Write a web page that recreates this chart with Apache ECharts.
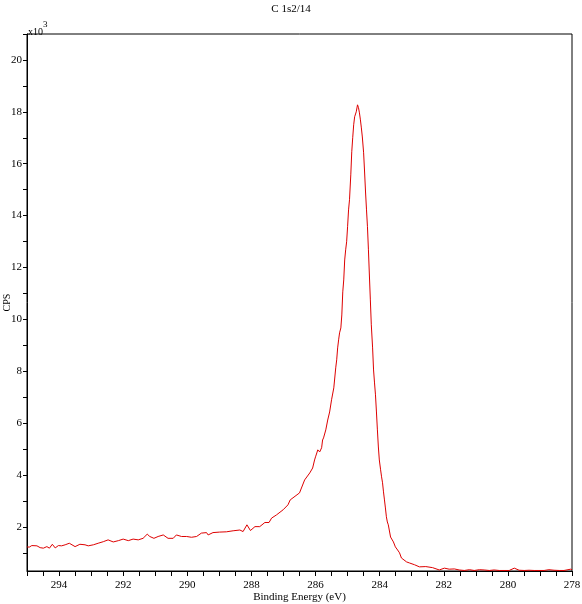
<!DOCTYPE html>
<html>
<head>
<meta charset="utf-8">
<script src="https://cdn.jsdelivr.net/npm/echarts@6/dist/echarts.min.js"></script>
<style>
  html, body { margin: 0; padding: 0; background: #fff; }
  #chart { width: 582px; height: 604px; }
</style>
</head>
<body>
<div id="chart"></div>
<script>
// binding energy (eV)
const energy = [295.00, 294.93, 294.85, 294.69, 294.59, 294.49, 294.38, 294.30, 294.21, 294.12, 294.02,
  293.92, 293.81, 293.68, 293.50, 293.35, 293.19, 293.09, 292.93, 292.78, 292.62, 292.47, 292.31,
  292.15, 292.00, 291.84, 291.69, 291.53, 291.38, 291.25, 291.17, 291.04, 290.91, 290.75, 290.60,
  290.44, 290.34, 290.18, 290.02, 289.87, 289.71, 289.56, 289.40, 289.35, 289.20, 288.99, 288.78,
  288.57, 288.36, 288.26, 288.14, 288.03, 287.89, 287.74, 287.58, 287.45, 287.37, 287.22, 287.01,
  286.86, 286.79, 286.50, 286.34, 286.18, 286.09, 286.03, 286.00, 285.96, 285.93, 285.87, 285.84,
  285.81, 285.78, 285.75, 285.68, 285.62, 285.56, 285.50, 285.43, 285.37, 285.34, 285.31, 285.28,
  285.25, 285.21, 285.18, 285.15, 285.12, 285.09, 285.06, 285.03, 285.00, 284.97, 284.94, 284.90,
  284.87, 284.84, 284.81, 284.78, 284.73, 284.69, 284.66, 284.63, 284.60, 284.57, 284.54, 284.50,
  284.47, 284.44, 284.41, 284.38, 284.35, 284.32, 284.29, 284.26, 284.22, 284.19, 284.16, 284.13,
  284.10, 284.07, 284.04, 284.01, 283.97, 283.94, 283.91, 283.88, 283.85, 283.82, 283.79, 283.76,
  283.73, 283.70, 283.66, 283.63, 283.57, 283.51, 283.44, 283.38, 283.32, 283.26, 283.16, 283.07,
  282.91, 282.76, 282.56, 282.35, 282.14, 281.98, 281.83, 281.67, 281.52, 281.36, 281.20, 281.05,
  280.89, 280.74, 280.58, 280.43, 280.27, 280.12, 279.96, 279.80, 279.65, 279.49, 279.34, 279.18,
  279.03, 278.87, 278.72, 278.56, 278.40, 278.25, 278.04, 278.00];

// counts per second, x10^3
const cps = [1.23, 1.22, 1.28, 1.27, 1.20, 1.18, 1.24, 1.18, 1.33, 1.19, 1.28,
  1.27, 1.31, 1.37, 1.24, 1.33, 1.31, 1.27, 1.31, 1.37, 1.43, 1.50, 1.42,
  1.47, 1.53, 1.47, 1.53, 1.50, 1.56, 1.72, 1.63, 1.56, 1.63, 1.69, 1.56,
  1.56, 1.69, 1.63, 1.63, 1.60, 1.63, 1.76, 1.78, 1.69, 1.78, 1.80, 1.81,
  1.85, 1.88, 1.82, 2.08, 1.86, 2.01, 2.01, 2.17, 2.17, 2.34, 2.46, 2.66,
  2.85, 3.04, 3.31, 3.81, 4.08, 4.27, 4.58, 4.70, 4.85, 4.97, 4.89, 4.85,
  5.05, 5.35, 5.43, 5.74, 6.12, 6.43, 6.90, 7.36, 8.13, 8.44, 8.90, 9.21,
  9.48, 9.67, 10.17, 11.06, 11.52, 12.29, 12.68, 12.99, 13.57, 14.22, 14.61, 15.57,
  16.46, 17.00, 17.50, 17.81, 18.00, 18.27, 18.16, 17.96, 17.69, 17.38, 17.03, 16.42,
  15.68, 14.91, 14.22, 13.57, 12.68, 11.71, 10.75, 9.79, 8.90, 8.05, 7.55, 7.09,
  6.43, 5.74, 5.08, 4.58, 4.20, 3.93, 3.70, 3.35, 3.04, 2.73, 2.39, 2.19,
  2.08, 1.88, 1.61, 1.58, 1.42, 1.23, 1.11, 1.00, 0.80, 0.73, 0.65, 0.61,
  0.54, 0.46, 0.47, 0.43, 0.34, 0.41, 0.37, 0.38, 0.34, 0.32, 0.35, 0.32,
  0.35, 0.34, 0.32, 0.34, 0.32, 0.32, 0.32, 0.41, 0.33, 0.32, 0.33, 0.32,
  0.32, 0.32, 0.35, 0.33, 0.32, 0.32, 0.37, 0.35];

const xLabels = [278, 280, 282, 284, 286, 288, 290, 292, 294];
const yLabels = [2, 4, 6, 8, 10, 12, 14, 16, 18, 20];

const xTicks = [];
for (let e = 278; e <= 295; e += 0.5) xTicks.push(e);
const yTicks = [];
for (let v = 1; v <= 21; v++) yTicks.push(v);

const serif = '"Liberation Serif", "DejaVu Serif", serif';

const chart = echarts.init(document.getElementById('chart'));
const option = {
  animation: false,
  backgroundColor: '#fff',
  title: {
    text: 'C 1s2/14',
    left: 'center',
    top: -1,
    textStyle: { fontFamily: serif, fontSize: 11, fontWeight: 'normal', color: '#000' }
  },
  grid: {
    left: 27, right: 10, top: 34, bottom: 33,
    containLabel: false,
    outerBoundsMode: 'none',
    show: true, borderColor: '#000', borderWidth: 1
  },
  xAxis: {
    type: 'value',
    inverse: true,
    min: 278,
    max: 295,
    name: 'Binding Energy (eV)',
    nameLocation: 'middle',
    nameGap: 21,
    nameMoveOverlap: false,
    nameTextStyle: { fontFamily: serif, fontSize: 11, color: '#000' },
    axisLine: { lineStyle: { color: '#000', width: 1 } },
    axisTick: { inside: false, length: 5, customValues: xTicks, lineStyle: { color: '#000' } },
    axisLabel: { customValues: xLabels, margin: 9, fontFamily: serif, fontSize: 11, color: '#000' },
    splitLine: { show: false }
  },
  yAxis: {
    type: 'value',
    min: 0.3,
    max: 21,
    name: 'CPS',
    nameLocation: 'middle',
    nameGap: 15,
    nameMoveOverlap: false,
    nameRotate: 90,
    nameTextStyle: { fontFamily: serif, fontSize: 10, color: '#000' },
    axisLine: { show: true, lineStyle: { color: '#000', width: 1 } },
    axisTick: { show: true, inside: false, length: 4, customValues: yTicks, lineStyle: { color: '#000' } },
    axisLabel: { customValues: yLabels, margin: 5, fontFamily: serif, fontSize: 11, color: '#000' },
    splitLine: { show: false }
  },
  graphic: [
    { type: 'text', left: 28, top: 27, style: { text: 'x10', fontFamily: serif, fontSize: 10, fill: '#000' } },
    { type: 'text', left: 43, top: 20, style: { text: '3', fontFamily: serif, fontSize: 9, fill: '#000' } }
  ],
  series: [{
    type: 'line',
    data: energy.map((e, i) => [e, cps[i]]),
    showSymbol: false,
    symbol: 'none',
    lineStyle: { color: '#dd0000', width: 1 },
    clip: true
  }]
};
chart.setOption(option);
</script>
</body>
</html>
